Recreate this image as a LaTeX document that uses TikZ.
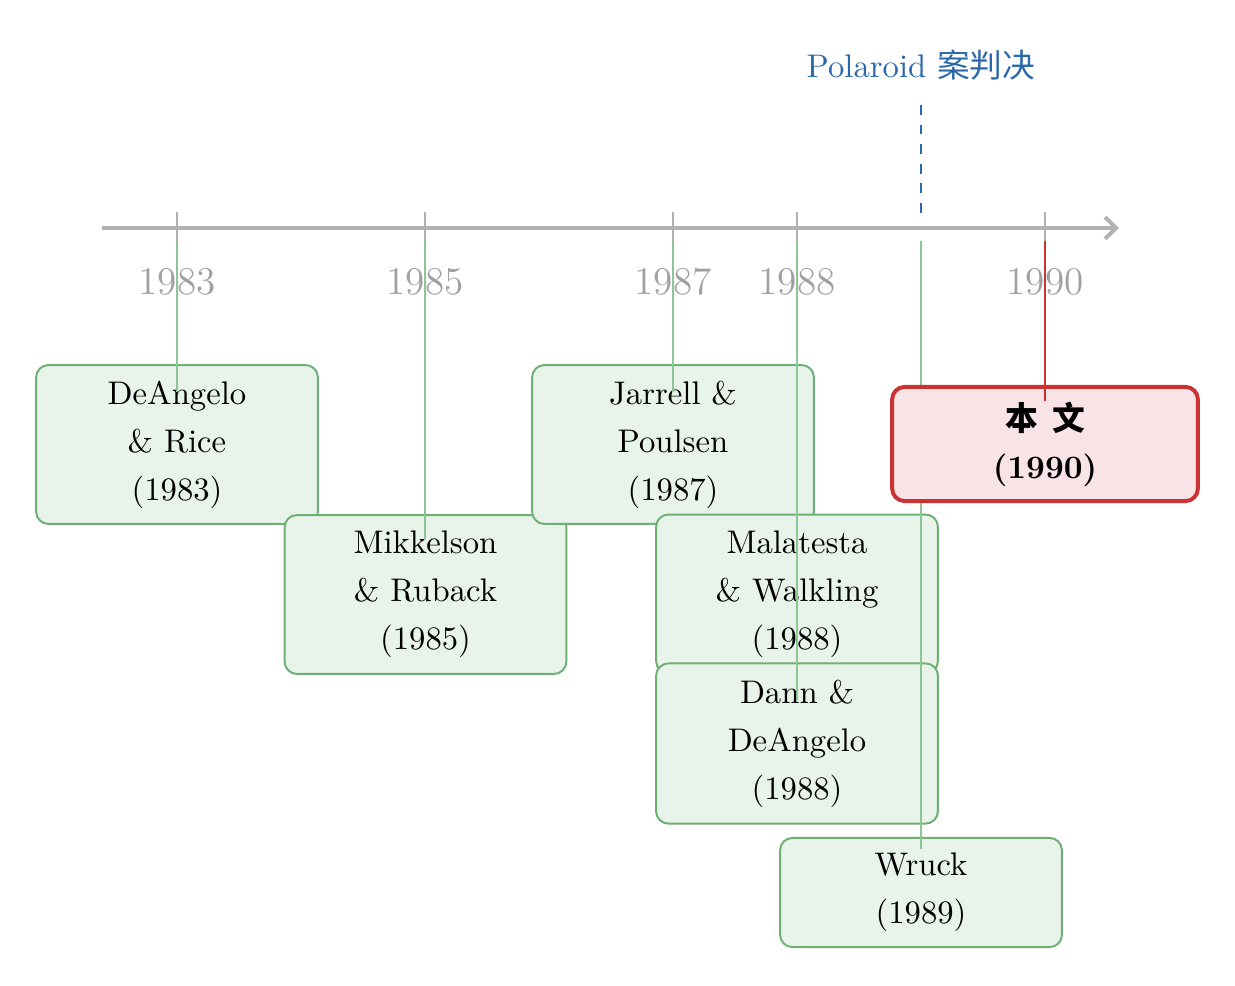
\documentclass[tikz,border=0pt]{standalone}
\usepackage{fontspec}
\newfontfamily\cjk{Noto Sans CJK SC}
\usetikzlibrary{arrows.meta}
\definecolor{axisgray}{RGB}{178,178,178}
\definecolor{yeargray}{RGB}{160,160,160}
\definecolor{gborder}{RGB}{110,175,115}
\definecolor{gfill}{RGB}{232,243,233}
\definecolor{gline}{RGB}{140,198,148}
\definecolor{rborder}{RGB}{205,50,50}
\definecolor{rfill}{RGB}{248,228,230}
\definecolor{polblue}{RGB}{44,105,170}
\tikzset{
  paper/.style={draw=gborder, fill=gfill, line width=0.6pt, rounded corners=3.8pt,
    minimum width=86.2pt, align=center, inner sep=0pt,
    font=\fontsize{10}{14.7}\selectfont},
  ours/.style={draw=rborder, fill=rfill, line width=1.2pt, rounded corners=3.8pt,
    minimum width=93.5pt, minimum height=34.9pt, align=center, inner sep=0pt,
    font=\fontsize{10}{14.7}\selectfont\bfseries},
  yearlbl/.style={text=yeargray, font=\fontsize{12}{14}\selectfont, inner sep=0pt},
  tick/.style={draw=axisgray, line width=0.5pt},
  link/.style={draw=gline, line width=0.5pt},
  rlink/.style={draw=rborder, line width=0.5pt},
}
\begin{document}
\begin{tikzpicture}[x=0.3058pt, y=-0.3058pt]
\useasboundingbox (0,0) rectangle (1235,986);
% axis
\coordinate (ax0) at (102,228);
\coordinate (ax1) at (1119,228);
\draw[draw=axisgray, line width=1.2pt, -{Straight Barb[length=3.4pt,width=6.6pt,line width=1.2pt]}] (ax0) -- (ax1);
% ticks
\foreach \n/\x in {t83/177, t85/425, t87/673, t88/797, t90/1045}{
  \coordinate (\n a) at (\x,212);
  \coordinate (\n b) at (\x,242);
  \draw[tick] (\n a) -- (\n b);
}
% year labels
\node[yearlbl] (y83) at (177,282) {1983};
\node[yearlbl] (y85) at (425,282) {1985};
\node[yearlbl] (y87) at (673,282) {1987};
\node[yearlbl] (y88) at (797,282) {1988};
\node[yearlbl] (y90) at (1045,282) {1990};
% Polaroid
\node[text=polblue, font=\fontsize{10}{12}\selectfont, inner sep=0pt] (pol) at (921,65) {Polaroid {\cjk 案判决}};
\coordinate (pa) at (921,105);
\coordinate (pb) at (921,212.9);
\draw[draw=polblue, line width=0.55pt, dashed] (pa) -- (pb);
% boxes
\node[paper, minimum height=48.6pt] (b83) at (177,444.5) {DeAngelo\\\& Rice\\(1983)};
\node[paper, minimum height=48.6pt] (b85) at (425.5,594.5) {Mikkelson\\\& Ruback\\(1985)};
\node[paper, minimum height=48.6pt] (b87) at (673,444.5) {Jarrell \&\\Poulsen\\(1987)};
\node[paper, minimum height=48.6pt] (b88a) at (797,594) {Malatesta\\\& Walkling\\(1988)};
\node[paper, minimum height=49pt] (b88b) at (797,743.5) {Dann \&\\DeAngelo\\(1988)};
\node[paper, minimum height=33.4pt] (b89) at (921,892.5) {Wruck\\(1989)};
% links
\coordinate (s83) at (177,241); \coordinate (e83) at (177,392);
\coordinate (s85) at (425,241); \coordinate (e85) at (425,540);
\coordinate (s87) at (673,241); \coordinate (e87) at (673,392);
\coordinate (s88) at (797,241); \coordinate (e88a) at (797,540); \coordinate (e88b) at (797,700);
\coordinate (s89) at (921,241); \coordinate (e89) at (921,849);
\draw[link] (s83) -- (e83);
\draw[link] (s85) -- (e85);
\draw[link] (s87) -- (e87);
\draw[link] (s88) -- (e88a);
\draw[link] (s88) -- (e88b);
\draw[link] (s89) -- (e89);
% our paper
\node[ours] (b90) at (1045,444) {{\cjk 本\hspace{2pt} 文}\\(1990)};
\coordinate (s90) at (1045,241); \coordinate (e90) at (1045,401);
\draw[rlink] (s90) -- (e90);
\end{tikzpicture}
\end{document}
